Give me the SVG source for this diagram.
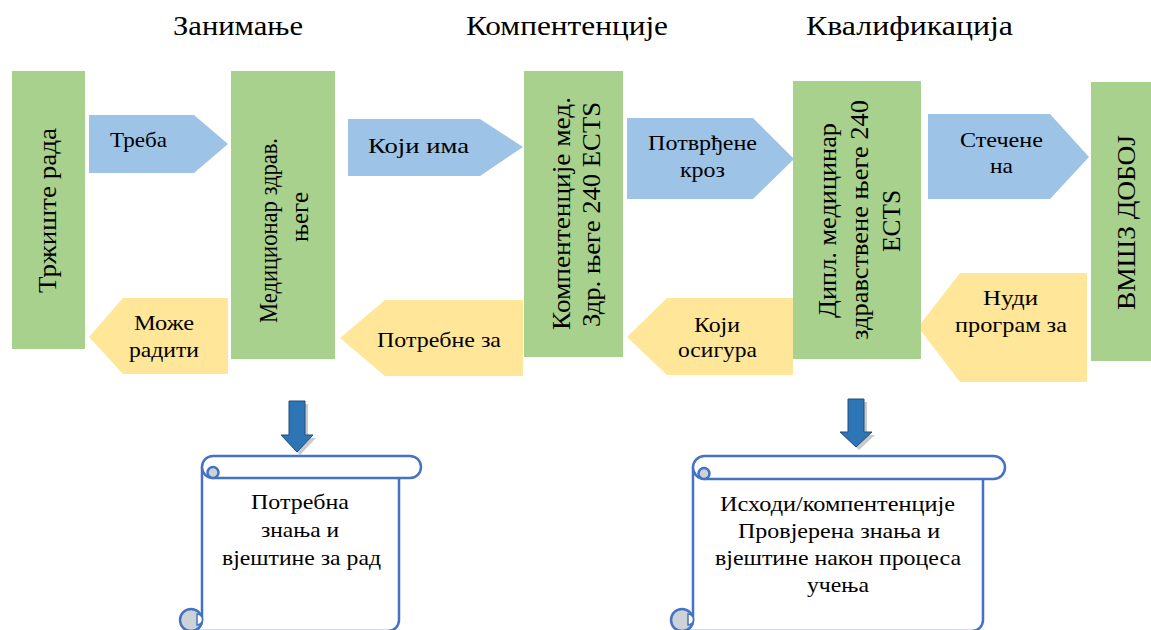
<svg xmlns="http://www.w3.org/2000/svg" width="1151" height="630" viewBox="0 0 1151 630">
<style>
text{font-family:"Liberation Serif","DejaVu Serif","Noto Serif","FreeSerif","Tinos","Times New Roman",serif;fill:#000;}
.title{font-size:28px;text-anchor:middle;}
.bt{font-size:25px;text-anchor:middle;}
.at{font-size:22px;text-anchor:middle;}
.st{font-size:22px;text-anchor:middle;}
.box{fill:#A9D18E;}
.blue{fill:#9DC3E6;}
.yel{fill:#FFE699;}
.scroll{fill:#fff;stroke:#4472C4;stroke-width:2.5;stroke-linejoin:round;}
.curl{fill:#CDD1D8;stroke:#4472C4;stroke-width:2.5;}
.down{fill:#2E75B6;stroke:#1F4E79;stroke-width:1;}
.shadow{fill:#9E9E9E;opacity:0.55;}
</style>
<rect width="1151" height="630" fill="#fff"/>

<g id="titles">
<text class="title" x="238" y="35" textLength="130" lengthAdjust="spacingAndGlyphs">Занимање</text>
<text class="title" x="567" y="35" textLength="202" lengthAdjust="spacingAndGlyphs">Компентенције</text>
<text class="title" x="909.5" y="35" textLength="207" lengthAdjust="spacingAndGlyphs">Квалификација</text>
</g>

<g id="connectors">
<g id="arr-treba"><polygon class="blue" points="89,115 194,115 228,144 194,173 89,173"/><text class="at" x="138.5" y="147" textLength="57" lengthAdjust="spacingAndGlyphs">Треба</text></g>
<g id="arr-koji-ima"><polygon class="blue" points="348,119 480,119 523,147 480,176 348,176"/><text class="at" x="418.5" y="153" textLength="101" lengthAdjust="spacingAndGlyphs">Који има</text></g>
<g id="arr-potvrdjene"><polygon class="blue" points="627,118 753,118 794,159 753,199 627,199"/><text class="at" x="702.5" y="150" textLength="109" lengthAdjust="spacingAndGlyphs">Потврђене</text><text class="at" x="702.5" y="177" textLength="45" lengthAdjust="spacingAndGlyphs">кроз</text></g>
<g id="arr-stecene"><polygon class="blue" points="928,114 1050,114 1089,157 1050,199 928,199"/><text class="at" x="1001.5" y="147" textLength="83" lengthAdjust="spacingAndGlyphs">Стечене</text><text class="at" x="1001.5" y="173" textLength="23" lengthAdjust="spacingAndGlyphs">на</text></g>
<g id="arr-moze"><polygon class="yel" points="89,337 123,298 228,298 228,374 123,374"/><text class="at" x="164" y="330" textLength="60" lengthAdjust="spacingAndGlyphs">Може</text><text class="at" x="164" y="357" textLength="70" lengthAdjust="spacingAndGlyphs">радити</text></g>
<g id="arr-potrebne"><polygon class="yel" points="340,338 385,300 523,300 523,376 385,376"/><text class="at" x="439" y="347" textLength="124" lengthAdjust="spacingAndGlyphs">Потребне за</text></g>
<g id="arr-osigura"><polygon class="yel" points="627,337 667,298 793,298 793,375 667,375"/><text class="at" x="717" y="332" textLength="46" lengthAdjust="spacingAndGlyphs">Који</text><text class="at" x="717.5" y="357" textLength="79" lengthAdjust="spacingAndGlyphs">осигура</text></g>
<g id="arr-nudi"><polygon class="yel" points="918,327 960,273 1087,273 1087,382 960,382"/><text class="at" x="1010.5" y="305" textLength="55" lengthAdjust="spacingAndGlyphs">Нуди</text><text class="at" x="1011" y="332" textLength="112" lengthAdjust="spacingAndGlyphs">програм за</text></g>
<g id="down1"><polygon class="shadow" points="292,404 308,404 308,438 316,438 300,455 284,438 292,438"/><polygon class="down" points="289,401 305,401 305,435 313,435 297,452 281,435 289,435"/></g>
<g id="down2"><polygon class="shadow" points="851,402 867,402 867,435 875,435 859,450 843,435 851,435"/><polygon class="down" points="848,399 864,399 864,432 872,432 856,447 840,432 848,432"/></g>
</g>

<g id="box-trziste">
<rect class="box" x="12" y="71" width="73" height="278"/>
<text class="bt" transform="translate(48.5,210.5) rotate(-90)" y="7" textLength="165" lengthAdjust="spacingAndGlyphs">Тржиште рада</text>
</g>
<g id="box-medicionar">
<rect class="box" x="231" y="71" width="104" height="288"/>
<text class="bt" transform="translate(283,230.5) rotate(-90)" y="-6" textLength="185" lengthAdjust="spacingAndGlyphs">Медиционар здрав.</text>
<text class="bt" transform="translate(283,217) rotate(-90)" y="25" textLength="50" lengthAdjust="spacingAndGlyphs">његе</text>
</g>
<g id="box-kompetencije">
<rect class="box" x="524" y="71" width="99" height="286"/>
<text class="bt" transform="translate(573.5,213.5) rotate(-90)" y="-4" textLength="233" lengthAdjust="spacingAndGlyphs">Компентенције  мед.</text>
<text class="bt" transform="translate(573.5,214.5) rotate(-90)" y="26" textLength="225" lengthAdjust="spacingAndGlyphs">Здр. његе 240 ECTS</text>
</g>
<g id="box-dipl">
<rect class="box" x="793" y="81" width="128" height="278"/>
<text class="bt" transform="translate(857,220.5) rotate(-90)" y="-21" textLength="195" lengthAdjust="spacingAndGlyphs">Дипл. медицинар</text>
<text class="bt" transform="translate(857,220) rotate(-90)" y="11" textLength="240" lengthAdjust="spacingAndGlyphs">здравствене његе 240</text>
<text class="bt" transform="translate(857,221) rotate(-90)" y="43" textLength="62" lengthAdjust="spacingAndGlyphs">ECTS</text>
</g>
<g id="box-vmsz">
<rect class="box" x="1091" y="82" width="60" height="279"/>
<text class="bt" transform="translate(1121,222.5) rotate(-90)" y="14" textLength="175" lengthAdjust="spacingAndGlyphs">ВМШЗ  ДОБОЈ</text>
</g>

<g id="scroll1">
<path class="scroll" d="M202,467 V620 A11,11 0 0 1 191,631 H388 A11,11 0 0 0 399,620 V478 Z"/>
<rect class="scroll" x="202" y="456" width="219" height="22" rx="11"/>
<path class="curl" d="M213,478 A5.5,5.5 0 0 1 213,467 A5.5,5.5 0 0 1 213,478 Z"/>
<circle class="curl" cx="191" cy="620" r="11"/>
<path d="M197,614 A5.5,5.5 0 0 1 197,625 Z" fill="#fff" stroke="#4472C4" stroke-width="1.5"/>
<text class="st" x="300" y="509" textLength="98" lengthAdjust="spacingAndGlyphs">Потребна</text>
<text class="st" x="300" y="537" textLength="78" lengthAdjust="spacingAndGlyphs">знања и</text>
<text class="st" x="301.5" y="565" textLength="159" lengthAdjust="spacingAndGlyphs">вјештине за рад</text>
</g>

<g id="scroll2">
<path class="scroll" d="M693,467 V620 A11,11 0 0 1 682,631 H972 A11,11 0 0 0 983,620 V478 Z"/>
<rect class="scroll" x="693" y="456" width="312" height="23" rx="11.5"/>
<path class="curl" d="M704,479 A5.5,5.5 0 0 1 704,468 A5.5,5.5 0 0 1 704,479 Z"/>
<circle class="curl" cx="682" cy="620" r="11"/>
<path d="M688,614 A5.5,5.5 0 0 1 688,625 Z" fill="#fff" stroke="#4472C4" stroke-width="1.5"/>
<text class="st" x="837.5" y="511" textLength="235" lengthAdjust="spacingAndGlyphs">Исходи/компентенције</text>
<text class="st" x="839" y="538" textLength="202" lengthAdjust="spacingAndGlyphs">Провјерена знања и</text>
<text class="st" x="838" y="565" textLength="246" lengthAdjust="spacingAndGlyphs">вјештине након процеса</text>
<text class="st" x="838" y="592" textLength="62" lengthAdjust="spacingAndGlyphs">учења</text>
</g>
</svg>
